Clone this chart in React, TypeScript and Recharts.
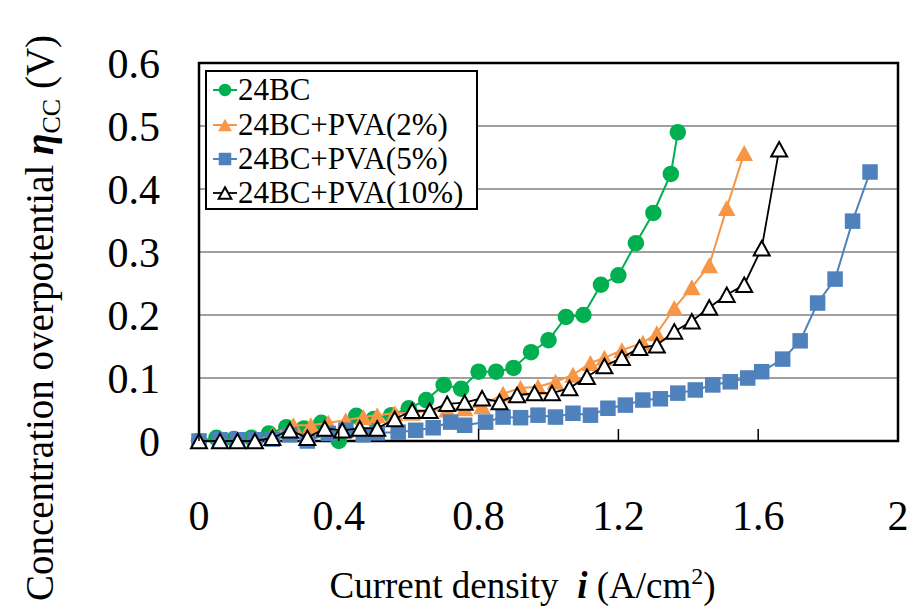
import React from 'react';
import {
  ScatterChart,
  Scatter,
  XAxis,
  YAxis,
  CartesianGrid,
  ReferenceArea,
  Legend,
  Label,
} from 'recharts';

const FONT = '"Liberation Serif", "Times New Roman", Times, serif';

// Current density (A/cm2) and concentration overpotential (V) per electrolyte
const bc24X = [0, 0.05, 0.1, 0.15, 0.2, 0.25, 0.3, 0.35, 0.4, 0.45, 0.5, 0.55, 0.6, 0.65, 0.7, 0.75, 0.8, 0.85, 0.9, 0.95, 1.0, 1.05, 1.1, 1.15, 1.2, 1.25, 1.3, 1.35, 1.37];
const bc24Y = [0, 0.005, 0.003, 0.005, 0.012, 0.022, 0.02, 0.029, 0, 0.04, 0.035, 0.041, 0.052, 0.065, 0.089, 0.083, 0.11, 0.11, 0.116, 0.141, 0.16, 0.197, 0.2, 0.248, 0.263, 0.314, 0.362, 0.424, 0.49];

const pva2X = [0, 0.06, 0.11, 0.16, 0.21, 0.27, 0.32, 0.37, 0.42, 0.47, 0.51, 0.56, 0.61, 0.66, 0.71, 0.76, 0.81, 0.87, 0.92, 0.97, 1.02, 1.07, 1.12, 1.16, 1.21, 1.27, 1.31, 1.36, 1.41, 1.46, 1.51, 1.56];
const pva2Y = [0, 0, 0, 0, 0.01, 0.025, 0.025, 0.029, 0.033, 0.038, 0.041, 0.044, 0.045, 0.048, 0.05, 0.052, 0.055, 0.075, 0.084, 0.086, 0.094, 0.105, 0.124, 0.132, 0.144, 0.156, 0.171, 0.211, 0.244, 0.279, 0.37, 0.457];

const pva5X = [0, 0.06, 0.11, 0.16, 0.21, 0.26, 0.31, 0.37, 0.42, 0.47, 0.51, 0.57, 0.62, 0.67, 0.72, 0.76, 0.82, 0.87, 0.92, 0.97, 1.02, 1.07, 1.12, 1.17, 1.22, 1.27, 1.32, 1.37, 1.42, 1.47, 1.52, 1.57, 1.61, 1.67, 1.72, 1.77, 1.82, 1.87, 1.92];
const pva5Y = [0, 0.002, 0.002, 0.002, 0.003, 0.01, 0, 0.012, 0.017, 0.01, 0.013, 0.014, 0.017, 0.021, 0.03, 0.025, 0.03, 0.038, 0.037, 0.041, 0.038, 0.044, 0.041, 0.052, 0.057, 0.065, 0.067, 0.076, 0.081, 0.089, 0.094, 0.1, 0.11, 0.13, 0.159, 0.219, 0.257, 0.349, 0.427];

const pva10X = [0, 0.06, 0.11, 0.16, 0.21, 0.26, 0.31, 0.36, 0.41, 0.46, 0.51, 0.56, 0.61, 0.66, 0.71, 0.76, 0.81, 0.86, 0.91, 0.96, 1.01, 1.06, 1.11, 1.16, 1.21, 1.26, 1.31, 1.36, 1.41, 1.46, 1.51, 1.56, 1.61, 1.66];
const pva10Y = [0, 0, 0, 0, 0.005, 0.017, 0.005, 0.02, 0.017, 0.02, 0.02, 0.035, 0.048, 0.048, 0.059, 0.061, 0.068, 0.062, 0.073, 0.076, 0.076, 0.084, 0.102, 0.119, 0.132, 0.148, 0.152, 0.174, 0.19, 0.212, 0.232, 0.248, 0.306, 0.463];

const xTicks = [0, 0.4, 0.8, 1.2, 1.6, 2];
const yTicks = [0, 0.1, 0.2, 0.3, 0.4, 0.5, 0.6];

type Kind = 'circle' | 'triangle' | 'square' | 'openTriangle';

const toPoints = (xs: number[], ys: number[]) => xs.map((x, k) => ({ i: x, eta: ys[k] }));

const SERIES: { name: string; color: string; kind: Kind; width: number; size: number; data: { i: number; eta: number }[] }[] = [
  { name: '24BC', color: '#00B050', kind: 'circle', width: 2, size: 16.5, data: toPoints(bc24X, bc24Y) },
  { name: '24BC+PVA(2%)', color: '#F79646', kind: 'triangle', width: 2, size: 16, data: toPoints(pva2X, pva2Y) },
  { name: '24BC+PVA(5%)', color: '#4F81BD', kind: 'square', width: 2, size: 15.5, data: toPoints(pva5X, pva5Y) },
  { name: '24BC+PVA(10%)', color: '#000000', kind: 'openTriangle', width: 1.8, size: 14.5, data: toPoints(pva10X, pva10Y) },
];

function Marker({ kind, x, y, s, color }: { kind: Kind; x: number; y: number; s: number; color: string }) {
  const h = s / 2;
  if (x == null || y == null) return null;
  switch (kind) {
    case 'circle':
      return <circle cx={x} cy={y} r={h} fill={color} />;
    case 'square':
      return <rect x={x - h} y={y - h} width={s} height={s} fill={color} />;
    case 'triangle':
      return <polygon points={`${x},${y - h} ${x + h * 1.1},${y + h} ${x - h * 1.1},${y + h}`} fill={color} />;
    case 'openTriangle':
      return (
        <polygon
          points={`${x},${y - h} ${x + h * 1.1},${y + h} ${x - h * 1.1},${y + h}`}
          fill="#ffffff"
          stroke={color}
          strokeWidth={2}
          strokeLinejoin="miter"
        />
      );
  }
  return null;
}

const XTick = (props: any) => {
  const { x, y, payload } = props;
  return (
    <g>
      <line x1={x} x2={x} y1={y} y2={y - 12} stroke="#000" strokeWidth={1.5} />
      <text x={x} y={y + 89} textAnchor="middle" fontSize={42} fontFamily={FONT} fill="#000">
        {payload.value}
      </text>
    </g>
  );
};

const YTick = (props: any) => {
  const { x, y, payload } = props;
  return (
    <text x={x - 39} y={y + 15} textAnchor="end" fontSize={42} fontFamily={FONT} fill="#000">
      {payload.value}
    </text>
  );
};

const XTitle = (props: any) => {
  const vb = props.viewBox;
  const cx = vb.x + vb.width / 2 - 26;
  return (
    <text x={cx} y={vb.y + 157} textAnchor="middle" fontSize={37} fontFamily={FONT} fill="#000">
      {'Current density\u00A0\u00A0'}
      <tspan fontWeight="bold" fontStyle="italic">i</tspan>
      {'\u00A0(A/cm'}
      <tspan fontSize={24} dy={-14}>2</tspan>
      <tspan dy={14}>)</tspan>
    </text>
  );
};

const YTitle = (props: any) => {
  const vb = props.viewBox;
  const bx = vb.x + 53;
  const cy = vb.y + 255;
  return (
    <text
      x={bx}
      y={cy}
      transform={`rotate(-90 ${bx} ${cy})`}
      textAnchor="middle"
      fontSize={39}
      fontFamily={FONT}
      fill="#000"
    >
      {'Concentration overpotential\u00A0'}
      <tspan fontWeight="bold" fontStyle="italic">η</tspan>
      <tspan fontSize={26} dy={7}>CC</tspan>
      <tspan dy={-7}>{'\u00A0(V)'}</tspan>
    </text>
  );
};

const LegendBox = () => {
  const rows = [20, 55, 89, 123];
  return (
    <svg width={274} height={141} style={{ display: 'block' }}>
      <rect x={1} y={1} width={271} height={138} fill="#ffffff" stroke="#000" strokeWidth={2} />
      {SERIES.map((s, k) => (
        <g key={s.name}>
          <line x1={8} x2={32} y1={rows[k]} y2={rows[k]} stroke={s.color} strokeWidth={s.width} />
          <Marker kind={s.kind} x={20} y={rows[k]} s={s.kind === 'openTriangle' ? 11.5 : 12.5} color={s.color} />
          <text x={33} y={rows[k] + 10} fontSize={31} fontFamily={FONT} fill="#000">
            {s.name}
          </text>
        </g>
      ))}
    </svg>
  );
};

export default function App() {
  return (
    <div style={{ position: 'absolute', left: 0, top: 0, background: '#ffffff' }}>
      <ScatterChart width={920} height={611} margin={{ top: 63, right: 22, bottom: 0, left: 0 }}>
        <CartesianGrid vertical={false} stroke="#808080" strokeWidth={1.5} />
        <XAxis
          type="number"
          dataKey="i"
          domain={[0, 2]}
          ticks={xTicks}
          interval={0}
          height={170}
          tickSize={0}
          tickMargin={0}
          tickLine={false}
          axisLine={false}
          tick={<XTick />}
        >
          <Label content={<XTitle />} />
        </XAxis>
        <YAxis
          type="number"
          dataKey="eta"
          domain={[0, 0.6]}
          ticks={yTicks}
          interval={0}
          width={199}
          tickSize={0}
          tickMargin={0}
          tickLine={false}
          axisLine={false}
          tick={<YTick />}
        >
          <Label content={<YTitle />} />
        </YAxis>
        <ReferenceArea
          x1={0}
          x2={2}
          y1={0}
          y2={0.6}
          fill="none"
          fillOpacity={0}
          stroke="#000"
          strokeWidth={2.5}
          ifOverflow="visible"
        />
        {SERIES.map((s) => (
          <Scatter
            key={s.name}
            name={s.name}
            data={s.data}
            fill={s.color}
            line={{ stroke: s.color, strokeWidth: s.width }}
            lineType="joint"
            isAnimationActive={false}
            shape={(p: any) => <Marker kind={s.kind} x={p.cx} y={p.cy} s={s.size} color={s.color} />}
          />
        ))}
        <Legend
          layout="horizontal"
          verticalAlign="middle"
          align="center"
          wrapperStyle={{ left: 205, top: 70, width: 274, height: 141 }}
          content={() => <LegendBox />}
        />
      </ScatterChart>
    </div>
  );
}
